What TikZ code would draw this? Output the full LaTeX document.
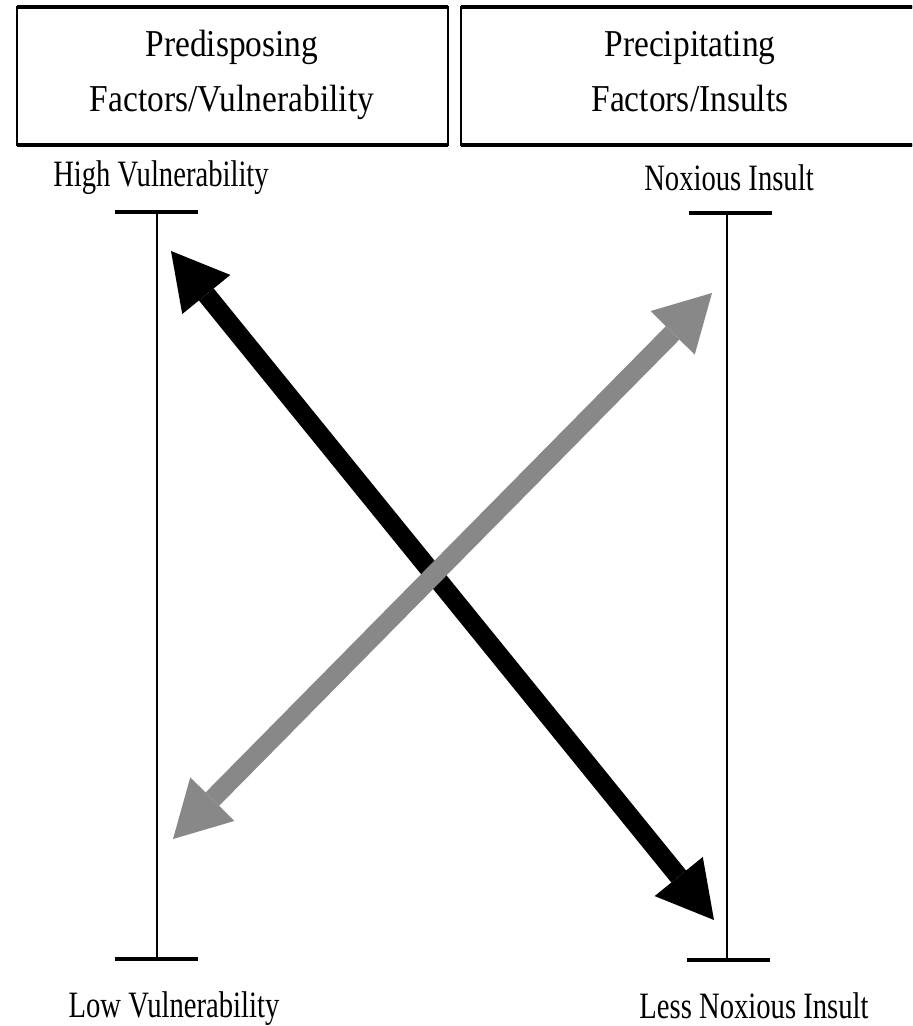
\documentclass[tikz,border=0pt]{standalone}
\usepackage{fontspec}
\setmainfont{Liberation Serif}
\newfontfamily\headfont[FakeStretch=0.88]{Liberation Serif}
\newfontfamily\axisfont[FakeStretch=0.77]{Liberation Serif}
\usetikzlibrary{arrows.meta}
\definecolor{arrowgray}{HTML}{888888}
\tikzset{
  headbox/.style={draw, line width=1pt},
  headedge/.style={line width=2pt},
  headtext/.style={anchor=base, inner sep=0pt, font=\headfont\fontsize{19pt}{22pt}\selectfont},
  axislabel/.style={anchor=base, inner sep=0pt, font=\axisfont\fontsize{18.6pt}{22pt}\selectfont},
  scaleline/.style={line width=1pt},
  scalebar/.style={line width=1.6pt},
  bigarrow/.style={line width=9.5pt,
    {Triangle[length=28pt,width=31pt,line width=0pt]}-{Triangle[length=28pt,width=31pt,line width=0pt]}},
  blackarrow/.style={bigarrow, draw=black},
  grayarrow/.style={bigarrow, draw=arrowgray, fill=arrowgray},
}
\begin{document}
\begin{tikzpicture}[x=0.5pt, y=-0.5pt]
  \clip (0,0) rectangle (912,1026);
  \fill[white] (0,0) rectangle (912,1026);

  % header boxes, with heavier top and bottom rules
  \draw[headbox] (17,7) rectangle (448,145);
  \draw[headedge] (17,7) -- (448,7) (17,145) -- (448,145);
  \draw[headbox] (461,7) rectangle (916,145);
  \draw[headedge] (461,7) -- (916,7) (461,145) -- (916,145);
  \node[headtext] (pre1) at (232,57) {Predisposing};
  \node[headtext] (pre2) at (232,112) {Factors/Vulnerability};
  \node[headtext] (prc1) at (690,57) {Precipitating};
  \node[headtext] (prc2) at (690,112) {Factors/Insults};

  % axis end labels
  \node[axislabel] (hv) at (161,187) {High Vulnerability};
  \node[axislabel] (lv) at (174,1017) {Low Vulnerability};
  \node[axislabel] (ni) at (729,191) {Noxious Insult};
  \node[axislabel] (lni) at (754,1018) {Less Noxious Insult};

  % vulnerability scale
  \coordinate (vtop) at (157,212);
  \coordinate (vbot) at (157,959);
  \draw[scaleline] (vtop) -- (vbot);
  \draw[scalebar] (115,212) -- (198,212);
  \draw[scalebar] (115,959) -- (198,959);

  % insult scale
  \coordinate (itop) at (727,213);
  \coordinate (ibot) at (727,960);
  \draw[scaleline] (itop) -- (ibot);
  \draw[scalebar] (689,213) -- (772,213);
  \draw[scalebar] (687,960) -- (770,960);

  % crossing double arrows
  \coordinate (hvtip) at (171,251);
  \coordinate (lnitip) at (714,920);
  \coordinate (nitip) at (712,293);
  \coordinate (lvtip) at (173,839);
  \draw[blackarrow] (hvtip) -- (lnitip);
  \draw[grayarrow] (lvtip) -- (nitip);
\end{tikzpicture}
\end{document}
